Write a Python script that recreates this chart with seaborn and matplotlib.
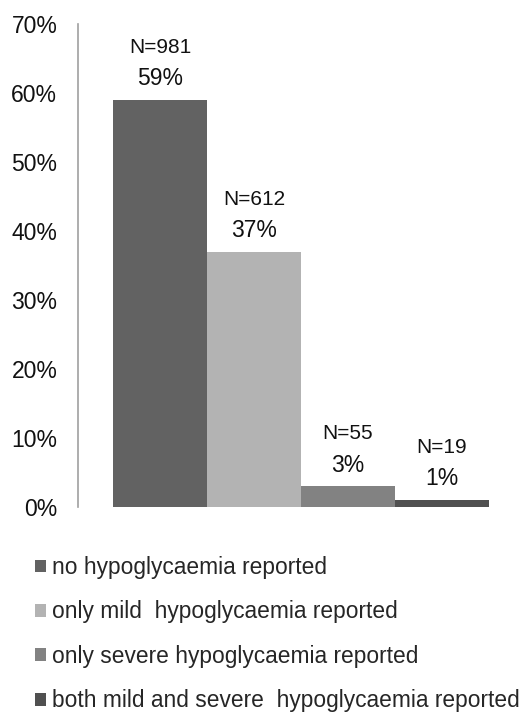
import matplotlib
matplotlib.use('Agg')
import matplotlib.pyplot as plt
import seaborn as sns
from matplotlib.ticker import FuncFormatter

# data
categories = ['no hypoglycaemia reported',
              'only mild  hypoglycaemia reported',
              'only severe hypoglycaemia reported',
              'both mild and severe  hypoglycaemia reported']
counts = [981, 612, 55, 19]
percents = [59, 37, 3, 1]
colors = ['#626262', '#b3b3b3', '#828282', '#505050']

sns.set_style('white')
plt.rcParams['font.family'] = ['Liberation Sans', 'DejaVu Sans']

fig = plt.figure(figsize=(5.28, 7.15), dpi=100)
ax = fig.add_axes([0.148, 0.291, 0.844, 0.675])

sns.barplot(x=categories, y=percents, hue=categories, palette=colors,
            width=1.0, legend=False, ax=ax, saturation=1, linewidth=0)

ax.set_xlim(-0.872, 3.872)
ax.set_ylim(0, 70)
ax.set_yticks(range(0, 71, 10))
ax.yaxis.set_major_formatter(FuncFormatter(lambda v, p: f'{v:.0f}%'))
ax.tick_params(axis='y', length=0, pad=15, labelsize=16.5, labelcolor='#111111')
ax.set_xticks([])
ax.set_xlabel('')
ax.set_ylabel('')

for side in ['top', 'right', 'bottom']:
    ax.spines[side].set_visible(False)
ax.spines['left'].set_color('#a0a0a0')
ax.spines['left'].set_linewidth(1.2)

# labels on top of each bar
for cont, n, p in zip(ax.containers, counts, percents):
    ax.bar_label(cont, labels=[f'{p}%'], padding=7, fontsize=16.5, color='#111111')
    ax.bar_label(cont, labels=[f'N={n}'], padding=31, fontsize=15, color='#111111')

handles = [c.patches[0] for c in ax.containers]
fig.legend(handles, categories, loc='upper left', bbox_to_anchor=(0.049, 0.235),
           frameon=False, fontsize=16.4, handlelength=0.5, handleheight=0.5,
           handletextpad=0.25, labelspacing=0.94, borderaxespad=0)

fig.savefig('out.png', dpi=100)
